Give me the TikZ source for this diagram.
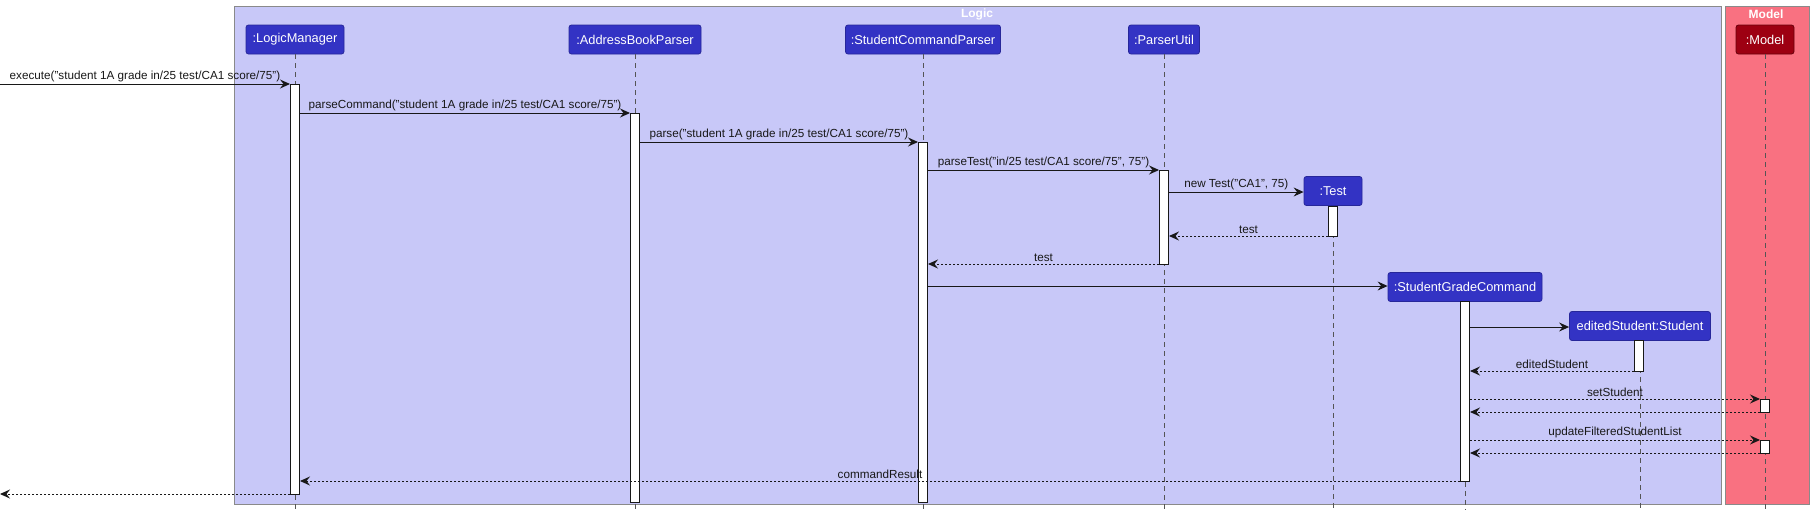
\documentclass[tikz,border=0pt]{standalone}
\usepackage{fontspec}
\setmainfont{Liberation Sans}
\usetikzlibrary{arrows.meta,calc}
\definecolor{logicbg}{HTML}{C8C8F8}
\definecolor{modelbg}{HTML}{F97181}
\definecolor{frameline}{HTML}{8A8A8A}
\definecolor{partblue}{HTML}{3333C4}
\definecolor{partblueline}{HTML}{27279A}
\definecolor{partred}{HTML}{9D0012}
\definecolor{partredline}{HTML}{6A000C}
\definecolor{ink}{HTML}{181818}
\definecolor{lifegrey}{HTML}{555555}
\begin{document}
\begin{tikzpicture}[x=1pt,y=-1pt,
  frame/.style={draw=frameline, line width=1.2pt},
  ftitle/.style={text=white, font=\bfseries\fontsize{12}{14}\selectfont, inner sep=0pt},
  part/.style={draw=partblueline, fill=partblue, text=white, rounded corners=2.5pt,
    minimum height=29pt, inner sep=0pt, font=\fontsize{12.8}{15}\selectfont, line width=0.8pt},
  partm/.style={part, draw=partredline, fill=partred},
  life/.style={draw=lifegrey, line width=0.7pt, dash pattern=on 5pt off 4pt},
  actbar/.style={draw=ink, fill=white, line width=1pt, minimum width=9pt, inner sep=0pt},
  msg/.style={draw=ink, line width=1pt, -{Stealth[length=10pt,width=9pt,inset=3.5pt]}},
  ret/.style={msg, dash pattern=on 2pt off 2pt},
  lbl/.style={midway, above, inner sep=2pt, text=ink, font=\fontsize{11.7}{14}\selectfont}
]
\useasboundingbox (0,0) rectangle (1810,515);
% frames
\node[frame, fill=logicbg, minimum width=1487pt, minimum height=498pt, inner sep=0pt, anchor=north west] (logic) at (234,6) {};
\node[frame, fill=modelbg, minimum width=84pt, minimum height=498pt, inner sep=0pt, anchor=north west] (model) at (1724.5,6) {};
\node[ftitle] (logict) at (977,14) {Logic};
\node[ftitle] (modelt) at (1766,14) {Model};
% participants
\node[part, minimum width=98pt] (lm) at (295,39.5) {:LogicManager};
\node[part, minimum width=132pt] (abp) at (635,39.5) {:AddressBookParser};
\node[part, minimum width=155pt] (scp) at (923,39.5) {:StudentCommandParser};
\node[part, minimum width=71pt] (pu) at (1164,39.5) {:ParserUtil};
\node[partm, minimum width=58pt] (mdl) at (1765,39.5) {:Model};
\node[part, minimum width=58pt] (tst) at (1333,191) {:Test};
\node[part, minimum width=154pt] (sgc) at (1465,287) {:StudentGradeCommand};
\node[part, minimum width=141pt] (es) at (1640,326) {editedStudent:Student};
% lifelines
\foreach \p in {lm,abp,scp,pu,mdl,tst,sgc,es}{
  \draw[life] (\p.south) -- (\p.south |- 0,509);
}
% activation bars
\node[actbar, minimum height=410pt] (lmA) at (295,289) {};
\node[actbar, minimum height=389pt] (abpA) at (635,307.5) {};
\node[actbar, minimum height=360pt] (scpA) at (923,322) {};
\node[actbar, minimum height=94pt] (puA) at (1164,217) {};
\node[actbar, minimum height=30pt] (tstA) at (1333,221) {};
\node[actbar, minimum height=180pt] (sgcA) at (1465,391) {};
\node[actbar, minimum height=31pt] (esA) at (1639,355.5) {};
\node[actbar, minimum height=13pt] (mdlA) at (1765,405.5) {};
\node[actbar, minimum height=13pt] (mdlB) at (1765,446.5) {};
% free ends
\coordinate (in) at (0,84);
\coordinate (out) at (0,494);
% messages
\draw[msg] (in) -- (lmA.west |- 0,84) node[lbl] {execute("student 1A grade in/25 test/CA1 score/75")};
\draw[msg] (lmA.east |- 0,113) -- (abpA.west |- 0,113) node[lbl] {parseCommand("student 1A grade in/25 test/CA1 score/75")};
\draw[msg] (abpA.east |- 0,142) -- (scpA.west |- 0,142) node[lbl] {parse("student 1A grade in/25 test/CA1 score/75")};
\draw[msg] (scpA.east |- 0,170) -- (puA.west |- 0,170) node[lbl] {parseTest("in/25 test/CA1 score/75", 75")};
\draw[msg] (puA.east |- 0,192) -- (tst.west |- 0,192) node[lbl] {new Test("CA1", 75)};
\draw[ret] (tstA.west |- 0,236) -- (puA.east |- 0,236) node[lbl] {test};
\draw[ret] (puA.west |- 0,264) -- (scpA.east |- 0,264) node[lbl] {test};
\draw[msg] (scpA.east |- 0,286) -- (sgc.west |- 0,286);
\draw[msg] (sgcA.east |- 0,327) -- (es.west |- 0,327);
\draw[ret] (esA.west |- 0,371) -- (sgcA.east |- 0,371) node[lbl] {editedStudent};
\draw[ret] (sgcA.east |- 0,399) -- (mdlA.west |- 0,399) node[lbl] {setStudent};
\draw[ret] (mdlA.west |- 0,412) -- (sgcA.east |- 0,412);
\draw[ret] (sgcA.east |- 0,440) -- (mdlB.west |- 0,440) node[lbl] {updateFilteredStudentList};
\draw[ret] (mdlB.west |- 0,453) -- (sgcA.east |- 0,453);
\draw[ret] (sgcA.west |- 0,481) -- (lmA.east |- 0,481) node[lbl] {commandResult};
\draw[ret] (lmA.west |- 0,494) -- (out);
\end{tikzpicture}
\end{document}
